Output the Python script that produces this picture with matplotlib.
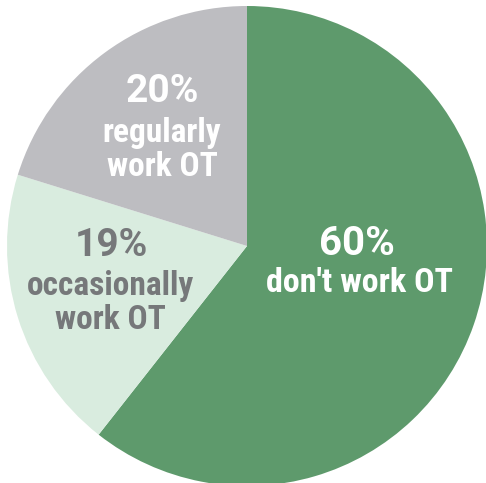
import matplotlib
matplotlib.use('Agg')
from matplotlib import pyplot as plt

labels = ["don't work OT", "occasionally\nwork OT", "regularly\nwork OT"]
shares = [60, 19, 20]
colors = ['#5e9a6c', '#d9ecdf', '#bdbdc1']
text_colors = ['white', '#76787a', 'white']

W, H = 486, 483
cx, cy, r = 247, 246, 240

fig = plt.figure(figsize=(W / 100, H / 100), dpi=100)
ax = fig.add_axes([0, 0, 1, 1])
ax.pie(shares, colors=colors, startangle=90, counterclock=False,
       wedgeprops=dict(linewidth=0))
ax.set_xlim(-cx / r, (W - cx) / r)
ax.set_ylim(-(H - cy) / r, cy / r)
ax.set_aspect('auto')
ax.axis('off')

def px(x, y):
    return (x - cx) / r, (cy - y) / r

pct_font = dict(family=['Roboto'], fontweight='bold', ha='center', va='center')
lab_font = dict(family=['Roboto Condensed', 'Roboto'], fontweight='bold',
                ha='center', va='center')

# label placement in pixel coords of the reference (pct line, text line)
spots = [((357, 244), (360, 283), 29, 24.5),
         ((111, 245), (110, 303), 28, 24),
         ((162, 91), (162, 150), 28, 24)]

for (p1, p2, fs1, fs2), val, lab, tc in zip(spots, shares, labels, text_colors):
    ax.text(*px(*p1), '%d%%' % val, fontsize=fs1, color=tc, **pct_font)
    ax.text(*px(*p2), lab, fontsize=fs2, color=tc, linespacing=1.08, **lab_font)

fig.savefig('out.png', dpi=100)
